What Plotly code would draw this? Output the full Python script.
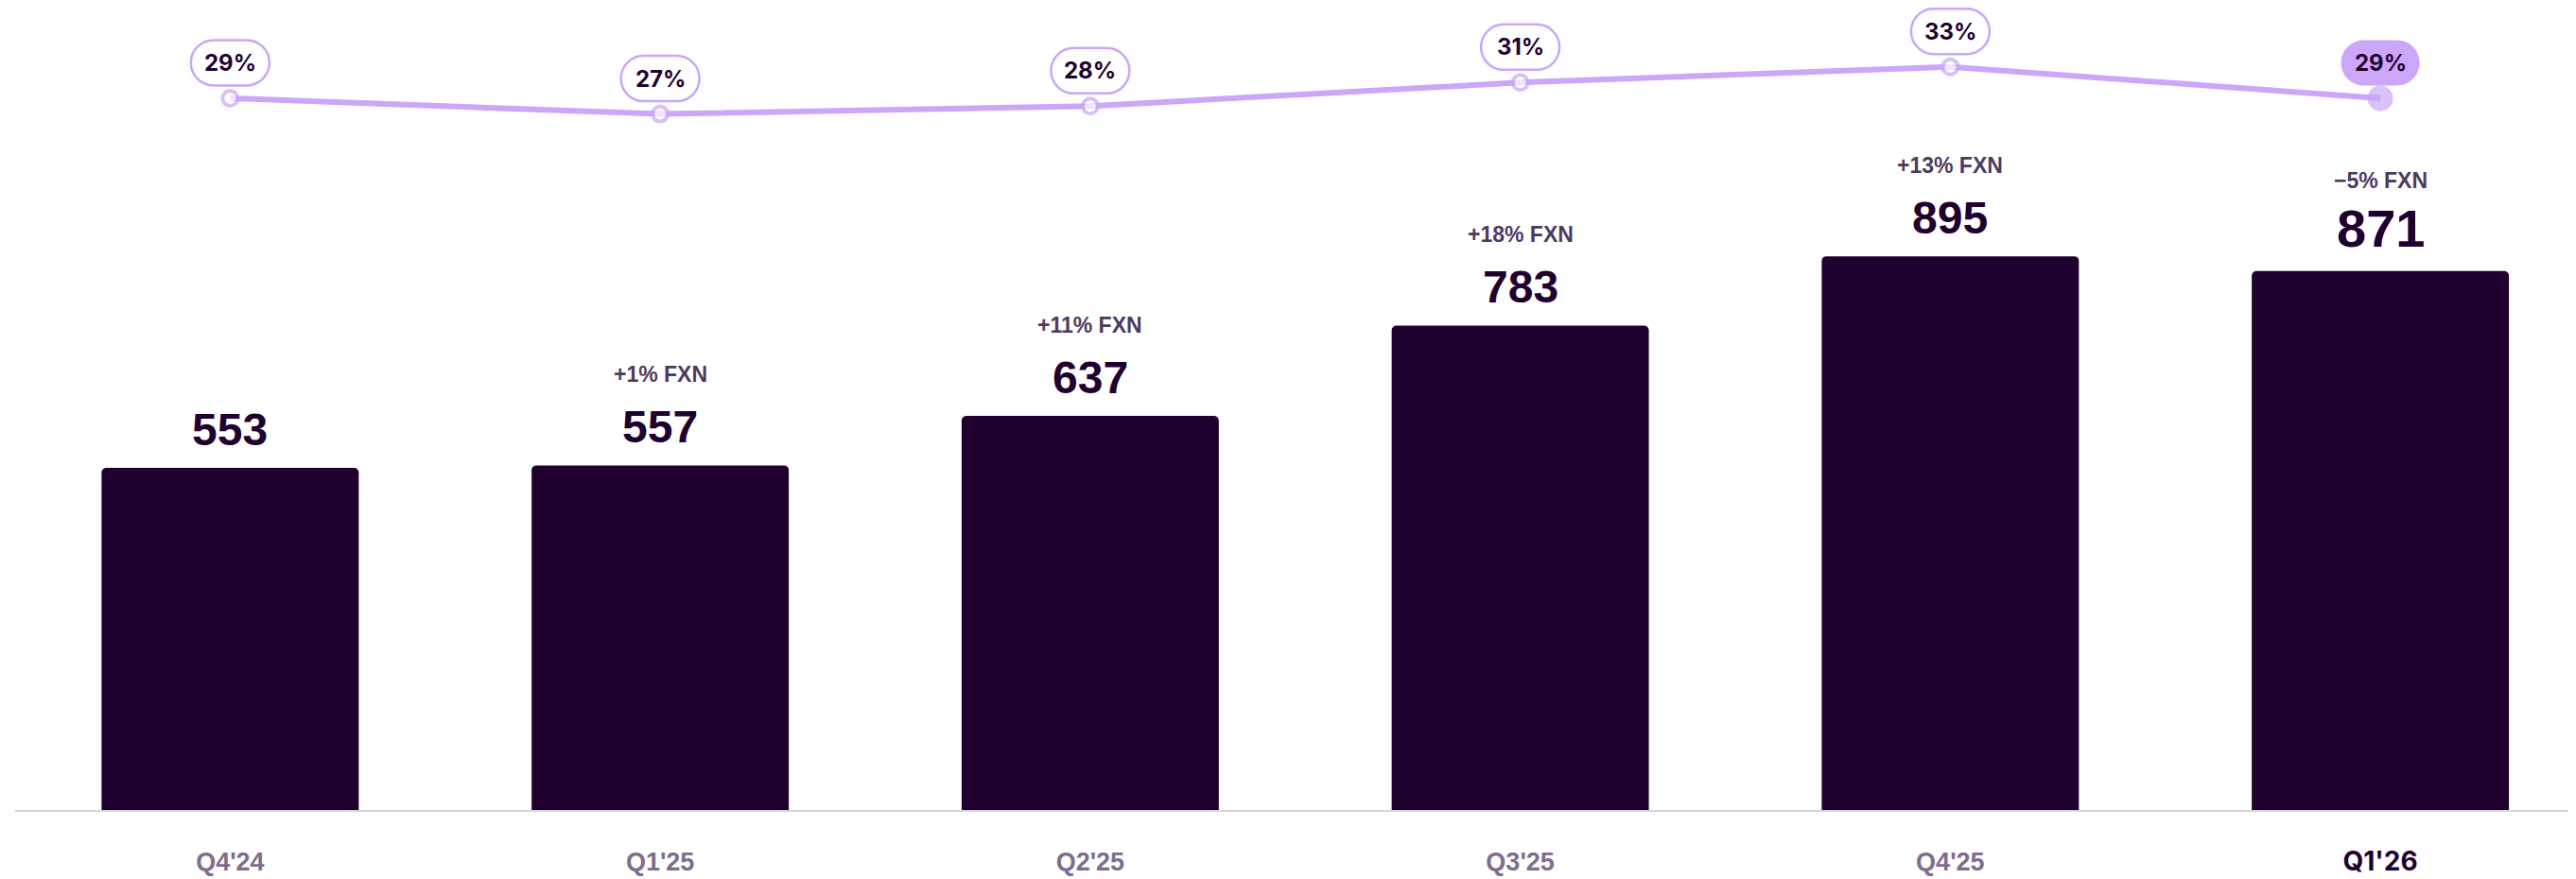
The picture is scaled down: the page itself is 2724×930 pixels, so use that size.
import plotly.graph_objects as go

categories = ["Q4'24", "Q1'25", "Q2'25", "Q3'25", "Q4'25", "Q1'26"]
revenue = [553, 557, 637, 783, 895, 871]
fxn_growth = ["", "+1% FXN", "+11% FXN", "+18% FXN", "+13% FXN", "\u22125% FXN"]
margin_pct = [29, 27, 28, 31, 33, 29]

BAR = "#1F002E"
LINE = "#CBA6F9"
FXN_C = "#4E3A60"
TICK_C = "#7F6C8E"

xs = list(range(len(categories)))
n = len(categories)

fig = go.Figure()
fig.add_trace(go.Bar(
    x=xs, y=revenue, width=0.598, marker=dict(color=BAR, line=dict(width=0)),
    hoverinfo="skip", showlegend=False,
))
fig.add_trace(go.Scatter(
    x=xs, y=margin_pct, yaxis="y2", mode="lines+markers",
    line=dict(color=LINE, width=6),
    marker=dict(size=[16] * (n - 1) + [27],
                color=["white"] * (n - 1) + [LINE],
                line=dict(color=LINE, width=[4] * (n - 1) + [0])),
    hoverinfo="skip", showlegend=False,
))

annotations = []
shapes = []
for i in xs:
    last = i == n - 1
    fs = 56 if last else 48
    annotations.append(dict(
        x=i, y=revenue[i], xref="x", yref="y", text=f"<b>{revenue[i]}</b>",
        showarrow=False, yanchor="bottom", yshift=12,
        font=dict(family="Liberation Sans, Arial, sans-serif", size=fs, color=BAR),
    ))
    if fxn_growth[i]:
        annotations.append(dict(
            x=i, y=revenue[i], xref="x", yref="y", text=f"<b>{fxn_growth[i]}</b>",
            showarrow=False, yanchor="bottom", yshift=81,
            font=dict(family="Liberation Sans, Arial, sans-serif", size=23, color=FXN_C),
        ))
    # pill label
    cy, hw, hh = 37.5, 41.5, 24
    k = 0.5523 * hh
    s = hw - hh
    path = (f"M {-s},{cy+hh} L {s},{cy+hh} "
            f"C {s+k},{cy+hh} {hw},{cy+k} {hw},{cy} "
            f"C {hw},{cy-k} {s+k},{cy-hh} {s},{cy-hh} "
            f"L {-s},{cy-hh} "
            f"C {-s-k},{cy-hh} {-hw},{cy-k} {-hw},{cy} "
            f"C {-hw},{cy+k} {-s-k},{cy+hh} {-s},{cy+hh} Z")
    shapes.append(dict(
        type="path", xref="x", yref="y2", xsizemode="pixel", ysizemode="pixel",
        xanchor=i, yanchor=margin_pct[i], path=path,
        fillcolor=LINE if last else "white",
        line=dict(color=LINE, width=0 if last else 2.5), layer="above",
    ))
    annotations.append(dict(
        x=i, y=margin_pct[i], xref="x", yref="y2", text=f"<b>{margin_pct[i]}%</b>",
        showarrow=False, yanchor="middle", yshift=37.5,
        font=dict(family="Inter, sans-serif", size=24, color=BAR),
    ))

ticktext = [f"<b>{c}</b>" if i < n - 1 else
            f"<span style='color:{BAR};font-family:Inter;font-size:28px'><b>{c}</b></span>"
            for i, c in enumerate(categories)]

fig.update_layout(
    width=2716, height=922,
    margin=dict(l=8, r=0, t=0, b=73),
    paper_bgcolor="white", plot_bgcolor="white",
    barcornerradius=5,
    xaxis=dict(range=[-0.5, 5.455], tickvals=xs, ticktext=ticktext,
               showgrid=False, zeroline=False, showline=True, linecolor="#D8D4DC",
               linewidth=1.5, ticks="", ticklabelstandoff=30,
               tickfont=dict(family="Liberation Sans, Arial, sans-serif", size=27, color=TICK_C)),
    yaxis=dict(range=[0, 1297], visible=False, fixedrange=True),
    yaxis2=dict(range=[-61.4, 40.52], overlaying="y", visible=False),
    annotations=annotations, shapes=shapes,
)

fig.write_html("out.html")
